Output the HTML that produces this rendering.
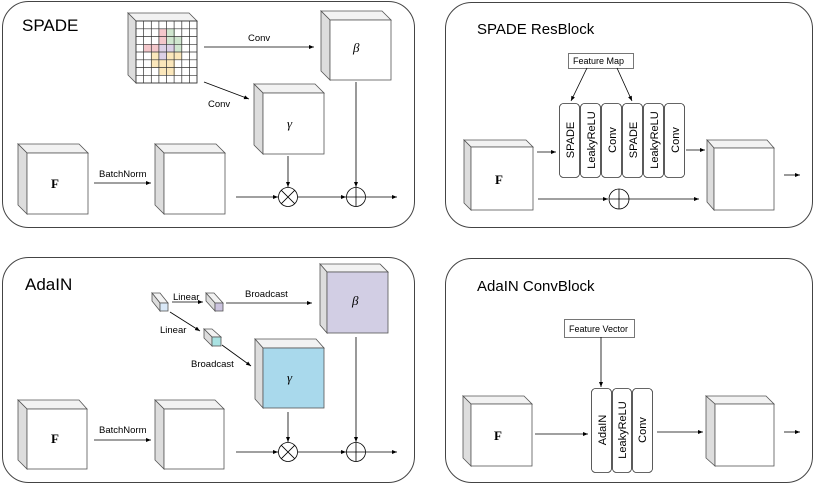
<!DOCTYPE html>
<html><head><meta charset="utf-8"><style>
html,body{margin:0;padding:0;background:#fff}
svg{display:block;font-family:"Liberation Sans",sans-serif}
</style></head><body>
<svg width="814" height="484" viewBox="0 0 814 484" xmlns="http://www.w3.org/2000/svg">
<defs>
<marker id="a" markerWidth="6" markerHeight="6" refX="5" refY="3" orient="auto" markerUnits="userSpaceOnUse"><path d="M0,1 L5,3 L0,5 z" fill="#000"/></marker>
</defs>
<g fill="none" stroke="#444" stroke-width="1">
<rect x="2.5" y="1.5" width="412" height="226" rx="26"/>
<rect x="445.5" y="2.5" width="367" height="225" rx="26"/>
<rect x="2.5" y="257.5" width="412" height="225" rx="26"/>
<rect x="445.5" y="258.5" width="367" height="224" rx="26"/>
</g>
<g font-size="17" fill="#000">
<text x="22" y="31">SPADE</text>
<text x="477" y="34" font-size="15">SPADE ResBlock</text>
<text x="25" y="290">AdaIN</text>
<text x="477" y="291" font-size="15">AdaIN ConvBlock</text>
</g>
<!-- cube helper drawn manually -->
<g stroke="#555" stroke-width="0.8">
<!-- SPADE F -->
<path d="M18,144 L79,144 L88,153 L27,153 Z" fill="#f2f2f2"/><path d="M18,144 L27,153 L27,214 L18,205 Z" fill="#ddd"/><rect x="27" y="153" width="61" height="61" fill="#fff"/>
<!-- SPADE BN -->
<path d="M155,144 L216,144 L225,153 L164,153 Z" fill="#f2f2f2"/><path d="M155,144 L164,153 L164,214 L155,205 Z" fill="#ddd"/><rect x="164" y="153" width="61" height="61" fill="#fff"/>
<!-- gamma -->
<path d="M254,84 L315,84 L324,93 L263,93 Z" fill="#f2f2f2"/><path d="M254,84 L263,93 L263,154 L254,145 Z" fill="#ddd"/><rect x="263" y="93" width="61" height="61" fill="#fff"/>
<!-- beta -->
<path d="M321,11 L382,11 L391,20 L330,20 Z" fill="#f2f2f2"/><path d="M321,11 L330,20 L330,80 L321,71 Z" fill="#ddd"/><rect x="330" y="20" width="61" height="60" fill="#fff"/>
<!-- grid -->
<path d="M128,13 L189,13 L197,21 L136,21 Z" fill="#f2f2f2"/><path d="M128,13 L136,21 L136,83 L128,75 Z" fill="#ddd"/><rect x="136" y="21" width="61" height="62" fill="#fff"/>
</g>
<g stroke="none">
<g fill="#f4c7cb"><rect x="159" y="29" width="8" height="8"/><rect x="159" y="37" width="8" height="8"/><rect x="144" y="44" width="8" height="8"/><rect x="151" y="44" width="8" height="8"/></g>
<g fill="#d0e6cf"><rect x="167" y="29" width="8" height="8"/><rect x="167" y="37" width="8" height="8"/><rect x="174" y="37" width="8" height="8"/><rect x="174" y="44" width="8" height="8"/></g>
<g fill="#dcd0e6"><rect x="159" y="44" width="8" height="8"/><rect x="167" y="44" width="8" height="8"/><rect x="159" y="52" width="8" height="8"/></g>
<g fill="#fbe7bb"><rect x="151" y="52" width="8" height="8"/><rect x="167" y="52" width="8" height="8"/><rect x="174" y="52" width="8" height="8"/><rect x="151" y="60" width="8" height="8"/><rect x="159" y="60" width="8" height="8"/><rect x="167" y="60" width="8" height="8"/><rect x="159" y="67" width="8" height="8"/><rect x="167" y="67" width="8" height="8"/></g>
</g>
<g stroke="#333" stroke-width="0.7">
<path d="M143.6,21V83M151.3,21V83M158.9,21V83M166.5,21V83M174.1,21V83M181.8,21V83M189.4,21V83M136,28.8H197M136,36.5H197M136,44.3H197M136,52H197M136,59.8H197M136,67.5H197M136,75.3H197"/>
<rect x="136" y="21" width="61" height="62" fill="none"/>
</g>
<g stroke="#000" stroke-width="0.8" fill="none" marker-end="url(#a)">
<line x1="204" y1="47" x2="314" y2="47"/>
<line x1="204" y1="82" x2="249" y2="99"/>
<line x1="94" y1="183" x2="151" y2="183"/>
<line x1="236" y1="197" x2="278" y2="197"/>
<line x1="298" y1="197" x2="346" y2="197"/>
<line x1="366" y1="197" x2="397" y2="197"/>
<line x1="288" y1="156" x2="288" y2="187"/>
<line x1="356" y1="82" x2="356" y2="187"/>
</g>
<g stroke="#000" stroke-width="0.8" fill="#fff">
<circle cx="288" cy="197" r="9.5"/><path d="M281.3,190.3L294.7,203.7M294.7,190.3L281.3,203.7"/>
<circle cx="356" cy="197" r="9.5"/><path d="M346.5,197H365.5M356,187.5V206.5"/>
</g>
<g font-size="9.5" fill="#000">
<text x="248" y="41">Conv</text>
<text x="208" y="107">Conv</text>
<text x="99" y="177">BatchNorm</text>
</g>
<g font-family="Liberation Serif,serif" font-style="italic" font-size="13" fill="#000">
<text x="287" y="128">γ</text><text x="353" y="52">β</text>
</g>
<text x="51" y="188" font-family="Liberation Serif,serif" font-weight="bold" font-size="13">F</text>

<!-- SPADE ResBlock -->
<g stroke="#555" stroke-width="0.8">
<path d="M464,140 L526,140 L533,147 L471,147 Z" fill="#f2f2f2"/><path d="M464,140 L471,147 L471,210 L464,203 Z" fill="#ddd"/><rect x="471" y="147" width="62" height="63" fill="#fff"/>
<path d="M707,140 L767,140 L774,148 L714,148 Z" fill="#f2f2f2"/><path d="M707,140 L714,148 L714,210 L707,202 Z" fill="#ddd"/><rect x="714" y="148" width="60" height="62" fill="#fff"/>
</g>
<rect x="568.5" y="53.5" width="65" height="15" fill="#fff" stroke="#555" stroke-width="0.8"/>
<text x="573" y="64" font-size="9">Feature Map</text>
<g stroke="#333" stroke-width="0.8" fill="#fff">
<rect x="559.5" y="103.5" width="20" height="74" rx="4"/>
<rect x="580.5" y="103.5" width="20" height="74" rx="4"/>
<rect x="601.5" y="103.5" width="20" height="74" rx="4"/>
<rect x="622.5" y="103.5" width="20" height="74" rx="4"/>
<rect x="643.5" y="103.5" width="20" height="74" rx="4"/>
<rect x="664.5" y="103.5" width="20" height="74" rx="4"/>
</g>
<g font-size="11" fill="#000" text-anchor="middle">
<text transform="translate(574,140) rotate(-90)">SPADE</text>
<text transform="translate(595,140) rotate(-90)">LeakyReLU</text>
<text transform="translate(616,140) rotate(-90)">Conv</text>
<text transform="translate(637,140) rotate(-90)">SPADE</text>
<text transform="translate(658,140) rotate(-90)">LeakyReLU</text>
<text transform="translate(679,140) rotate(-90)">Conv</text>
</g>
<g stroke="#000" stroke-width="0.8" fill="none" marker-end="url(#a)">
<line x1="587" y1="68" x2="571" y2="101"/>
<line x1="617" y1="68" x2="632" y2="101"/>
<line x1="537" y1="152" x2="556" y2="152"/>
<line x1="686" y1="150" x2="705" y2="150"/>
<line x1="784" y1="175" x2="800" y2="175"/>
<line x1="538" y1="199" x2="608" y2="199"/>
<line x1="629" y1="199" x2="699" y2="199"/>
</g>
<g stroke="#000" stroke-width="0.8" fill="#fff">
<circle cx="619" cy="199" r="10"/><path d="M609,199H629M619,189V209"/>
</g>
<text x="495" y="184" font-family="Liberation Serif,serif" font-weight="bold" font-size="13">F</text>

<!-- AdaIN -->
<g stroke="#555" stroke-width="0.8">
<path d="M18,400 L79,400 L87,409 L27,409 Z" fill="#f2f2f2"/><path d="M18,400 L27,409 L27,469 L18,460 Z" fill="#ddd"/><rect x="27" y="409" width="60" height="60" fill="#fff"/>
<path d="M155,400 L215,400 L224,409 L164,409 Z" fill="#f2f2f2"/><path d="M155,400 L164,409 L164,469 L155,460 Z" fill="#ddd"/><rect x="164" y="409" width="60" height="60" fill="#fff"/>
<path d="M255,339 L316,339 L324,348 L263,348 Z" fill="#f2f2f2"/><path d="M255,339 L263,348 L263,408 L255,399 Z" fill="#ddd"/><rect x="263" y="348" width="61" height="60" fill="#a9d9ec"/>
<path d="M320,264 L380,264 L388,272 L327,272 Z" fill="#f2f2f2"/><path d="M320,264 L327,272 L327,333 L320,325 Z" fill="#ddd"/><rect x="327" y="272" width="61" height="61" fill="#d2cee4"/>
<path d="M152,293 L160,293 L168,303 L160,303 Z" fill="#f2f2f2"/><path d="M152,293 L160,303 L160,311 L152,301 Z" fill="#ddd"/><rect x="160" y="303" width="8" height="8" fill="#d9e8f7"/>
<path d="M206,293 L214,293 L223,303 L215,303 Z" fill="#f2f2f2"/><path d="M206,293 L215,303 L215,311 L206,301 Z" fill="#ddd"/><rect x="215" y="303" width="8" height="8" fill="#cbc3de"/>
<path d="M204,329 L212,329 L221,337 L212,337 Z" fill="#f2f2f2"/><path d="M204,329 L212,337 L212,346 L204,338 Z" fill="#ddd"/><rect x="212" y="337" width="9" height="9" fill="#a9e2e2"/>
</g>
<g stroke="#000" stroke-width="0.8" fill="none" marker-end="url(#a)">
<line x1="172" y1="302" x2="203" y2="302"/>
<line x1="226" y1="303" x2="312" y2="303"/>
<line x1="170" y1="312" x2="200" y2="331"/>
<line x1="222" y1="345" x2="251" y2="366"/>
<line x1="94" y1="440" x2="151" y2="440"/>
<line x1="236" y1="452" x2="278" y2="452"/>
<line x1="298" y1="452" x2="346" y2="452"/>
<line x1="366" y1="452" x2="397" y2="452"/>
<line x1="288" y1="412" x2="288" y2="442"/>
<line x1="356" y1="337" x2="356" y2="442"/>
</g>
<g stroke="#000" stroke-width="0.8" fill="#fff">
<circle cx="288" cy="452" r="9.5"/><path d="M281.3,445.3L294.7,458.7M294.7,445.3L281.3,458.7"/>
<circle cx="356" cy="452" r="9.5"/><path d="M346.5,452H365.5M356,442.5V461.5"/>
</g>
<g font-size="9.5" fill="#000">
<text x="173" y="300">Linear</text>
<text x="245" y="297">Broadcast</text>
<text x="160" y="333">Linear</text>
<text x="191" y="367">Broadcast</text>
<text x="99" y="433">BatchNorm</text>
</g>
<g font-family="Liberation Serif,serif" font-style="italic" font-size="13" fill="#000">
<text x="287" y="382">γ</text><text x="352" y="305">β</text>
</g>
<text x="51" y="443" font-family="Liberation Serif,serif" font-weight="bold" font-size="13">F</text>

<!-- AdaIN ConvBlock -->
<g stroke="#555" stroke-width="0.8">
<path d="M463,396 L524,396 L532,404 L471,404 Z" fill="#f2f2f2"/><path d="M463,396 L471,404 L471,466 L463,458 Z" fill="#ddd"/><rect x="471" y="404" width="61" height="62" fill="#fff"/>
<path d="M706,396 L766,396 L774,404 L715,404 Z" fill="#f2f2f2"/><path d="M706,396 L715,404 L715,466 L706,458 Z" fill="#ddd"/><rect x="715" y="404" width="59" height="62" fill="#fff"/>
</g>
<rect x="564.5" y="319.5" width="70" height="18" fill="#fff" stroke="#555" stroke-width="0.8"/>
<text x="569" y="332" font-size="9">Feature Vector</text>
<g stroke="#333" stroke-width="0.8" fill="#fff">
<rect x="591.5" y="388.5" width="20" height="84" rx="4"/>
<rect x="612.5" y="388.5" width="19" height="84" rx="4"/>
<rect x="632.5" y="388.5" width="20" height="84" rx="4"/>
</g>
<g font-size="11" fill="#000" text-anchor="middle">
<text transform="translate(606,430) rotate(-90)">AdaIN</text>
<text transform="translate(626,430) rotate(-90)">LeakyReLU</text>
<text transform="translate(646,430) rotate(-90)">Conv</text>
</g>
<g stroke="#000" stroke-width="0.8" fill="none" marker-end="url(#a)">
<line x1="601" y1="337" x2="601" y2="387"/>
<line x1="535" y1="434" x2="588" y2="434"/>
<line x1="657" y1="432" x2="703" y2="432"/>
<line x1="784" y1="432" x2="800" y2="432"/>
</g>
<text x="494" y="440" font-family="Liberation Serif,serif" font-weight="bold" font-size="13">F</text>
</svg>
</body></html>
